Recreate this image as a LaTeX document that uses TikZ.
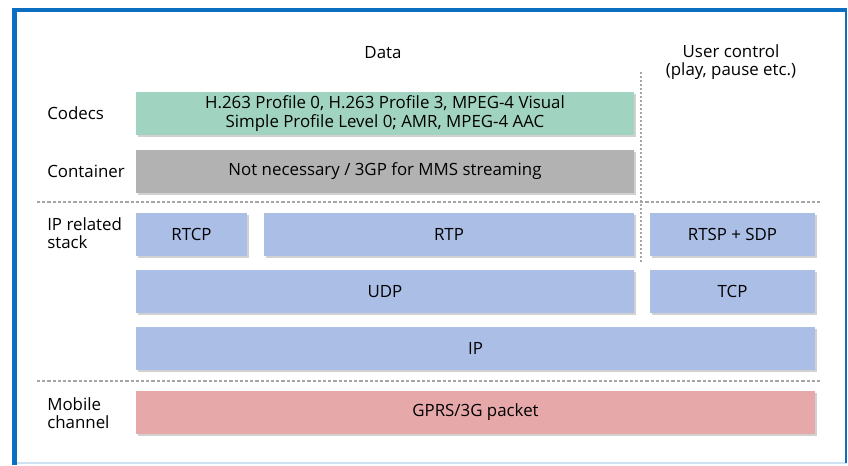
\documentclass[tikz,border=0pt]{standalone}
\usepackage{fontspec}
\setmainfont{Open Sans}
\usetikzlibrary{shadows}

\definecolor{framecol}{RGB}{12,110,192}
\definecolor{framelight}{RGB}{205,226,243}
\definecolor{codecgreen}{RGB}{160,212,192}
\definecolor{containergray}{RGB}{178,178,178}
\definecolor{stackblue}{RGB}{170,190,230}
\definecolor{channelred}{RGB}{230,168,168}
\definecolor{sepgray}{RGB}{165,165,165}

\begin{document}
\begin{tikzpicture}[x=0.25mm, y=-0.25mm,
  font=\fontsize{12}{13}\selectfont,
  layer/.style={rectangle, minimum height=10.75mm, inner sep=0pt, align=center,
    drop shadow={shadow xshift=0.6mm, shadow yshift=-0.6mm, opacity=0.18, fill=black}},
  rowlabel/.style={anchor=west, align=left, inner sep=0pt},
  separator/.style={sepgray, line width=0.4mm, dash pattern=on 0.8mm off 0.5mm}]
  \useasboundingbox (0,0) rectangle (848,465);

  % Frame round the figure
  \draw[framelight, line width=0.4mm] (17,463) -- (847,463);
  \draw[framecol, line width=0.5mm] (846,8) -- (846,463);
  \draw[framecol, line width=1mm] (12,10) -- (847,10);
  \draw[framecol, line width=1.25mm] (14.5,8) -- (14.5,465);

  % Column headings
  \node (data) at (383,53) {Data};
  \node[align=center] (userctl) at (731,62) {User control\\(play, pause etc.)};

  % Separators between layers
  \draw[separator] (37,202) -- (821,202);
  \draw[separator] (37,381) -- (821,381);
  \draw[separator, dash pattern=on 0.5mm off 0.5mm] (641,72) -- (641,262);

  % Codecs and container
  \node[layer, fill=codecgreen, minimum width=124.5mm] (codecs) at (385,113.5)
    {H.263 Profile 0, H.263 Profile 3, MPEG-4 Visual\\Simple Profile Level 0; AMR, MPEG-4 AAC};
  \node[layer, fill=containergray, minimum width=124.5mm] (container) at (385,171.5)
    {Not necessary / 3GP for MMS streaming};

  % IP related stack
  \node[layer, fill=stackblue, minimum width=27.75mm] (rtcp) at (191.5,234.5) {RTCP};
  \node[layer, fill=stackblue, minimum width=92.5mm] (rtp) at (449,234.5) {RTP};
  \node[layer, fill=stackblue, minimum width=41.25mm] (rtsp) at (732.5,234.5) {RTSP + SDP};
  \node[layer, fill=stackblue, minimum width=124.5mm] (udp) at (385,291.5) {UDP};
  \node[layer, fill=stackblue, minimum width=41.25mm] (tcp) at (732.5,291.5) {TCP};
  \node[layer, fill=stackblue, minimum width=169.75mm] (ip) at (475.5,348.5) {IP};

  % Mobile channel
  \node[layer, fill=channelred, minimum width=169.75mm] (gprs) at (475.5,412) {GPRS/3G packet};

  % Row labels
  \node[rowlabel] (codecslbl) at (47,113.5) {Codecs};
  \node[rowlabel] (containerlbl) at (47,171.5) {Container};
  \node[rowlabel] (stacklbl) at (47,233.5) {IP related\\stack};
  \node[rowlabel] (channellbl) at (47,413) {Mobile\\channel};
\end{tikzpicture}
\end{document}
